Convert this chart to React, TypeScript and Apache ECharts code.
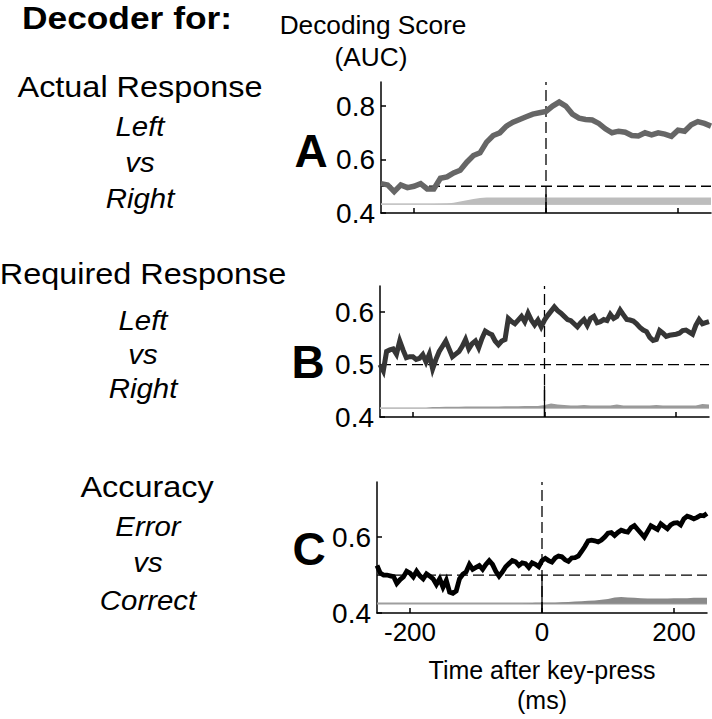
import React, { useEffect, useRef } from "react";
import * as echarts from "echarts";

// ---------- data ----------
const TIME_10 = Array.from({ length: 51 }, (_, i) => -250 + i * 10);
const TIME_5 = Array.from({ length: 101 }, (_, i) => -250 + i * 5);

const X_TICKS = [-200, 0, 200];
const Y_TICKS_A = [0.4, 0.6, 0.8];
const Y_TICKS_B = [0.4, 0.5, 0.6];
const Y_TICKS_C = [0.4, 0.6];

const CHANCE = 0.5;

// Panel A: Actual response (10 ms steps)
const AUC_A = [
  0.51, 0.505, 0.48, 0.505, 0.495, 0.5, 0.51, 0.49, 0.49, 0.53,
  0.535, 0.55, 0.56, 0.59, 0.615, 0.625, 0.665, 0.69, 0.7, 0.725,
  0.74, 0.75, 0.76, 0.77, 0.775, 0.78, 0.8, 0.815, 0.8, 0.77,
  0.755, 0.75, 0.748, 0.735, 0.715, 0.7, 0.706, 0.702, 0.69, 0.688,
  0.7, 0.692, 0.7, 0.695, 0.687, 0.71, 0.706, 0.73, 0.742, 0.735,
  0.725,
];

// Panel B: Required response (5 ms steps)
const AUC_B = [
  0.5, 0.488, 0.525, 0.528, 0.53, 0.52, 0.545, 0.528, 0.513, 0.515,
  0.515, 0.51, 0.512, 0.519, 0.505, 0.52, 0.492, 0.51, 0.525, 0.535,
  0.545, 0.53, 0.515, 0.52, 0.525, 0.535, 0.548, 0.53, 0.54, 0.545,
  0.532, 0.55, 0.564, 0.56, 0.557, 0.545, 0.538, 0.545, 0.548, 0.588,
  0.582, 0.578, 0.585, 0.592, 0.582, 0.598, 0.585, 0.576, 0.585, 0.572,
  0.585, 0.594, 0.602, 0.61, 0.603, 0.598, 0.592, 0.586, 0.584, 0.578,
  0.572, 0.58, 0.586, 0.575, 0.588, 0.592, 0.58, 0.582, 0.586, 0.584,
  0.596, 0.588, 0.592, 0.604, 0.595, 0.586, 0.585, 0.583, 0.578, 0.571,
  0.566, 0.563, 0.552, 0.546, 0.548, 0.565, 0.56, 0.554, 0.556, 0.557,
  0.558, 0.56, 0.565, 0.566, 0.562, 0.558, 0.575, 0.586, 0.578, 0.58,
  0.582,
];

// Panel C: Accuracy (5 ms steps)
const AUC_C = [
  0.525, 0.505, 0.5, 0.5, 0.498, 0.496, 0.478, 0.488, 0.495, 0.51,
  0.505, 0.495, 0.51, 0.498, 0.49, 0.503, 0.497, 0.49, 0.475, 0.49,
  0.468, 0.486, 0.455, 0.452, 0.458, 0.49, 0.502, 0.508, 0.528, 0.515,
  0.52, 0.525, 0.515, 0.528, 0.538, 0.528, 0.51, 0.497, 0.508, 0.522,
  0.53, 0.538, 0.535, 0.525, 0.532, 0.53, 0.52, 0.532, 0.528, 0.522,
  0.538, 0.544, 0.538, 0.534, 0.545, 0.55, 0.548, 0.54, 0.536, 0.545,
  0.546, 0.55, 0.562, 0.575, 0.59, 0.592, 0.59, 0.587, 0.592, 0.6,
  0.61, 0.612, 0.604, 0.612, 0.618, 0.615, 0.613, 0.625, 0.63, 0.62,
  0.61, 0.6, 0.615, 0.63, 0.625, 0.62, 0.635, 0.628, 0.622, 0.632,
  0.637, 0.638, 0.632, 0.648, 0.655, 0.652, 0.648, 0.652, 0.657, 0.656,
  0.662,
];

// Significance bands (10 ms steps), drawn from a baseline
const SIG_BASE_A = 0.433;
const SIG_A = [
  0.433, 0.433, 0.433, 0.433, 0.433, 0.433, 0.433, 0.433, 0.434, 0.435,
  0.436, 0.438, 0.443, 0.448, 0.452, 0.456, 0.458, 0.458, 0.458, 0.458,
  0.458, 0.458, 0.458, 0.458, 0.458, 0.458, 0.458, 0.458, 0.458, 0.458,
  0.458, 0.458, 0.458, 0.458, 0.458, 0.458, 0.458, 0.458, 0.458, 0.458,
  0.458, 0.458, 0.458, 0.458, 0.458, 0.458, 0.458, 0.458, 0.458, 0.458,
  0.458,
];
const SIG_BASE_B = 0.417;
const SIG_B = [
  0.417, 0.417, 0.417, 0.417, 0.417, 0.417, 0.417, 0.417, 0.419, 0.419,
  0.4195, 0.4195, 0.4195, 0.42, 0.42, 0.42, 0.42, 0.42, 0.42, 0.4205,
  0.4205, 0.4205, 0.421, 0.421, 0.421, 0.423, 0.426, 0.424, 0.423, 0.422,
  0.422, 0.423, 0.422, 0.422, 0.422, 0.422, 0.424, 0.422, 0.422, 0.422,
  0.422, 0.422, 0.423, 0.422, 0.422, 0.422, 0.422, 0.422, 0.422, 0.425,
  0.424,
];
const SIG_BASE_C = 0.425;
const SIG_C = [
  0.425, 0.425, 0.425, 0.425, 0.425, 0.425, 0.425, 0.425, 0.425, 0.425,
  0.425, 0.425, 0.425, 0.425, 0.425, 0.425, 0.425, 0.425, 0.425, 0.425,
  0.425, 0.425, 0.425, 0.426, 0.427, 0.427, 0.427, 0.427, 0.428, 0.429,
  0.43, 0.431, 0.432, 0.433, 0.435, 0.437, 0.441, 0.442, 0.441, 0.44,
  0.439, 0.438, 0.438, 0.438, 0.438, 0.439, 0.439, 0.439, 0.44, 0.44,
  0.44,
];

const PANEL_LETTERS = ["A", "B", "C"];
const PANEL_TITLES = ["Actual Response", "Required Response", "Accuracy"];
const PANEL_SUBS = [
  ["Left", "vs", "Right"],
  ["Left", "vs", "Right"],
  ["Error", "vs", "Correct"],
];
const HEADER = "Decoder for:";
const Y_NAME = ["Decoding Score", "(AUC)"];
const X_NAME = "Time after key-press\n(ms)";

// ---------- layout / style ----------
const FONT = "'Liberation Sans', Arial, Helvetica, sans-serif";
const panels = [
  {
    left: 381, top: 82, width: 330, height: 131, min: 0.4, max: 0.89,
    yTicks: Y_TICKS_A, times: TIME_10, auc: AUC_A, sig: SIG_A, sigBase: SIG_BASE_A,
    lineColor: "#666666", lineWidth: 5.5, baseColor: "#c6c6c6", bandColor: "#bdbdbd", solidTop: 0.47,
    letterX: 311, letterY: 151, titleX: 140, titleY: 87, subX: 140, subY: [126, 162, 198],
  },
  {
    left: 380, top: 286, width: 329, height: 131, min: 0.4, max: 0.65,
    yTicks: Y_TICKS_B, times: TIME_5, auc: AUC_B, sig: SIG_B, sigBase: SIG_BASE_B,
    lineColor: "#363636", lineWidth: 5, baseColor: "#c0c0c0", bandColor: "#9a9a9a", solidTop: 0.46,
    letterX: 308, letterY: 362, titleX: 143, titleY: 274, subX: 143, subY: [320, 354, 388],
  },
  {
    left: 377, top: 482, width: 330, height: 131, min: 0.4, max: 0.745,
    yTicks: Y_TICKS_C, times: TIME_5, auc: AUC_C, sig: SIG_C, sigBase: SIG_BASE_C,
    lineColor: "#000000", lineWidth: 4.8, baseColor: "#9e9e9e", bandColor: "#8a8a8a", solidTop: 0.5,
    letterX: 309, letterY: 549, titleX: 147, titleY: 487, subX: 148, subY: [526, 562, 600],
  },
];

export default function App() {
  const ref = useRef<HTMLDivElement>(null);

  useEffect(() => {
    if (!ref.current) return;
    const chart = echarts.init(ref.current, undefined, { renderer: "svg" });

    const grid: any[] = [];
    const xAxis: any[] = [];
    const yAxis: any[] = [];
    const series: any[] = [];
    const graphic: any[] = [];

    panels.forEach((p, i) => {
      grid.push({ left: p.left, top: p.top, width: p.width, height: p.height, containLabel: false });
      xAxis.push({
        type: "value",
        gridIndex: i,
        min: -250,
        max: 250,
        axisLine: { show: true, onZero: false, lineStyle: { color: "#000", width: 1.5 } },
        axisTick: { show: true, inside: true, length: 5, customValues: X_TICKS, lineStyle: { color: "#000", width: 1.5 } },
        axisLabel: {
          show: i === 2,
          customValues: X_TICKS,
          fontSize: 26,
          color: "#000",
          fontFamily: FONT,
          margin: 6,
        },
        splitLine: { show: false },
        name: i === 2 ? X_NAME : "",
        nameLocation: "middle",
        nameGap: 42,
        nameTextStyle: { fontSize: 25, color: "#000", fontFamily: FONT, lineHeight: 30 },
      });
      yAxis.push({
        type: "value",
        gridIndex: i,
        min: p.min,
        max: p.max,
        axisLine: { show: true, onZero: false, lineStyle: { color: "#000", width: 1.5 } },
        axisTick: { show: true, inside: true, length: 5, customValues: p.yTicks, lineStyle: { color: "#000", width: 1.5 } },
        axisLabel: {
          customValues: p.yTicks,
          fontSize: 28,
          color: "#000",
          fontFamily: FONT,
          margin: 6,
          formatter: (v: number) => String(Math.round(v * 10) / 10),
        },
        splitLine: { show: false },
      });

      const common = { xAxisIndex: i, yAxisIndex: i, type: "line", symbol: "none", silent: true, animation: false };
      // significance baseline
      series.push({
        ...common,
        z: 1,
        data: [[-250, p.sigBase], [250, p.sigBase]],
        lineStyle: { color: p.baseColor, width: 1.8 },
      });
      // significance band
      series.push({
        ...common,
        z: 2,
        data: p.sig.map((v, j) => [TIME_10[j], v]),
        lineStyle: { width: 0, opacity: 0 },
        areaStyle: { origin: p.sigBase, color: p.bandColor, opacity: 1 },
      });
      // chance level
      series.push({
        ...common,
        z: 3,
        data: [[-250, CHANCE], [250, CHANCE]],
        lineStyle: { color: "#000", width: 1.3, type: [11, 5] },
      });
      // key-press line (dashed)
      series.push({
        ...common,
        z: 3,
        data: [[0, p.min], [0, p.max]],
        lineStyle: { color: "#000", width: 1.3, type: [11, 5] },
      });
      // key-press line (solid lower part)
      series.push({
        ...common,
        z: 3,
        data: [[0, p.min], [0, p.solidTop]],
        lineStyle: { color: "#000", width: 1.3 },
      });
      // decoding score
      series.push({
        ...common,
        z: 5,
        data: p.auc.map((v, j) => [p.times[j], v]),
        lineStyle: { color: p.lineColor, width: p.lineWidth, join: "miter", cap: "butt" },
      });

      graphic.push({
        type: "text",
        x: p.letterX,
        y: p.letterY,
        style: { text: PANEL_LETTERS[i], font: `bold 46px ${FONT}`, fill: "#000", textAlign: "center", textVerticalAlign: "middle" },
      });
      graphic.push({
        type: "text",
        x: p.titleX,
        y: p.titleY,
        scaleX: 1.08,
        style: { text: PANEL_TITLES[i], font: `30px ${FONT}`, fill: "#000", textAlign: "center", textVerticalAlign: "middle" },
      });
      PANEL_SUBS[i].forEach((s, k) => {
        graphic.push({
          type: "text",
          x: p.subX,
          y: p.subY[k],
          scaleX: 1.05,
          style: { text: s, font: `italic 28px ${FONT}`, fill: "#000", textAlign: "center", textVerticalAlign: "middle" },
        });
      });
    });

    graphic.push({
      type: "text",
      x: 127,
      y: 18,
      scaleX: 1.14,
      style: { text: HEADER, font: `bold 31px ${FONT}`, fill: "#000", textAlign: "center", textVerticalAlign: "middle" },
    });
    graphic.push({
      type: "text",
      x: 373,
      y: 25,
      scaleX: 1.05,
      style: { text: Y_NAME[0], font: `25px ${FONT}`, fill: "#000", textAlign: "center", textVerticalAlign: "middle" },
    });
    graphic.push({
      type: "text",
      x: 371,
      y: 57,
      scaleX: 1.05,
      style: { text: Y_NAME[1], font: `25px ${FONT}`, fill: "#000", textAlign: "center", textVerticalAlign: "middle" },
    });

    chart.setOption({
      animation: false,
      backgroundColor: "#fff",
      grid,
      xAxis,
      yAxis,
      series,
      graphic,
    });

    return () => chart.dispose();
  }, []);

  return (
    <div
      ref={ref}
      style={{ position: "fixed", left: 0, top: 0, width: 712, height: 719, background: "#fff" }}
    />
  );
}
